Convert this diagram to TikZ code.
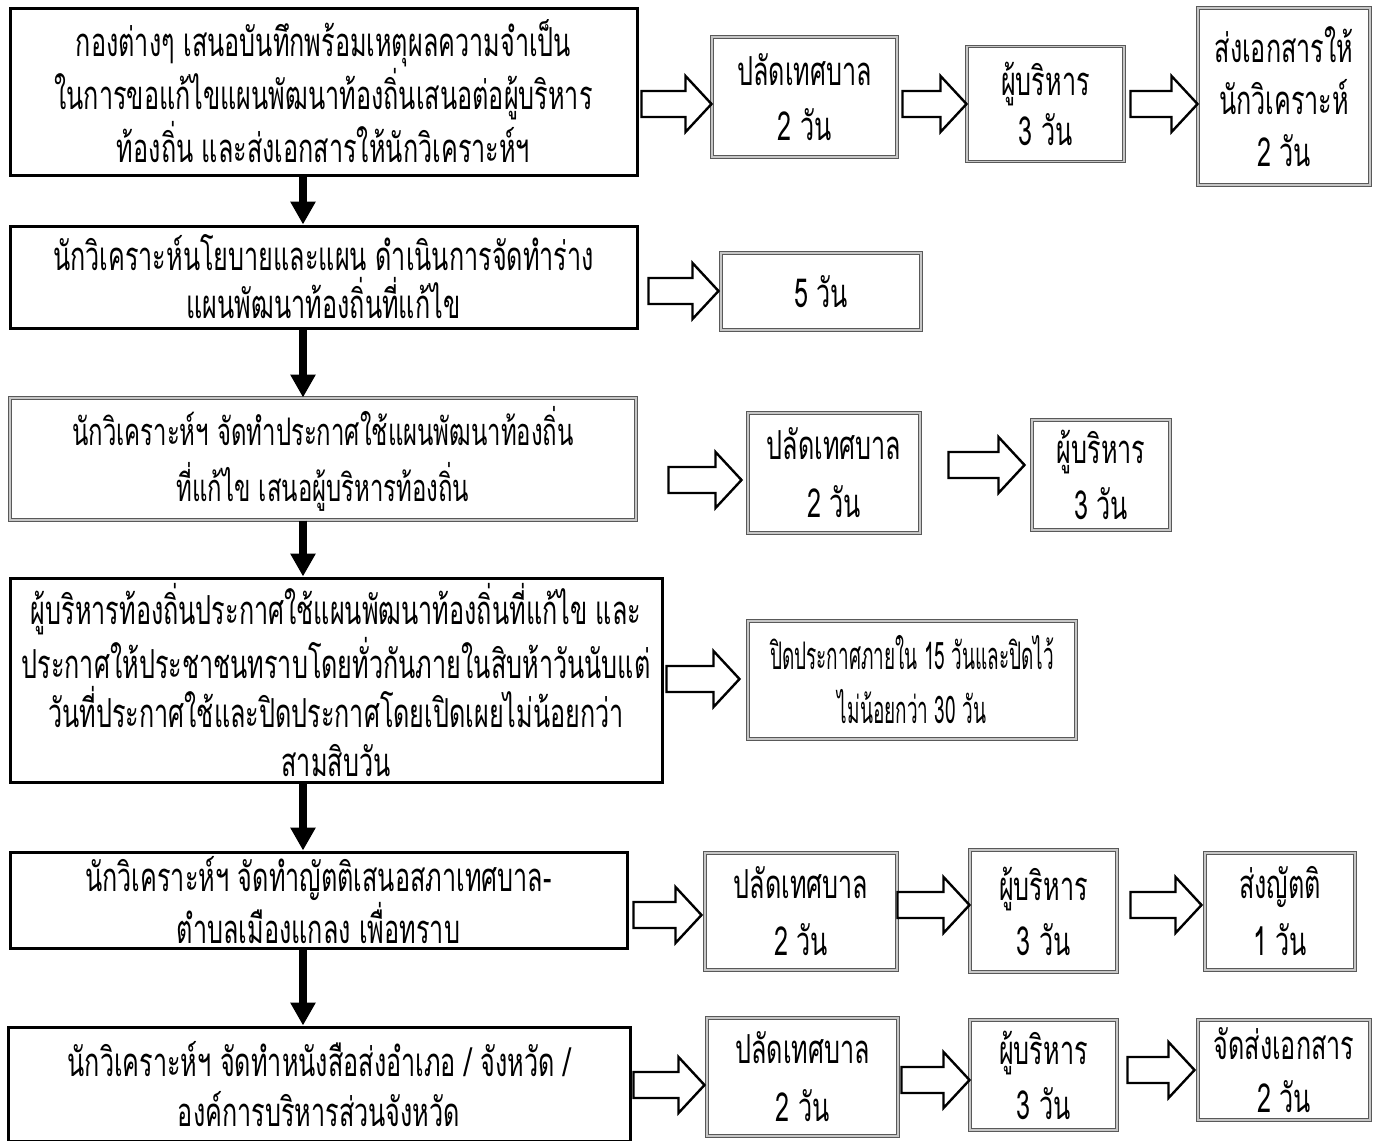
\documentclass[tikz,border=0pt]{standalone}
\usepackage{fontspec}
\newfontfamily\thaifont[Script=Thai,FakeStretch=0.63]{Loma}
\newfontfamily\thainarrow[Script=Thai,FakeStretch=0.5]{Loma}
\usetikzlibrary{arrows.meta,calc}

\tikzset{
  stepbox/.style={draw, line width=1.5pt, align=center, inner sep=0pt,
    font=\thaifont\fontsize{20}{26.5}\selectfont},
  daybox/.style={stepbox, draw=gray!70!black, line width=0.5pt,
    double=gray!45, double distance=0.7pt,
    font=\thaifont\fontsize{20}{27.5}\selectfont},
  boxsize/.style 2 args={minimum width=#1*0.5pt, minimum height=#2*0.5pt},
  lines/.style={font=\thaifont\fontsize{20}{#1}\selectfont},
  smalllines/.style 2 args={font=\thaifont\fontsize{#1}{#2}\selectfont},
  downflow/.style={line width=3.6pt, -{Triangle[width=12pt,length=11.5pt]}},
  sideflow/.style={draw, line width=1.2pt, fill=white, line join=miter},
}

% hollow arrow: from node, to node, y, gap at tail, gap at tip
\newcommand\blockarrow[5]{%
  \draw[sideflow] let \p1=(#1.east), \p2=(#2.west), \p3=(0,#3) in
    (\x1+#4*0.5pt,\y3+6.5pt) -- (\x2-#5*0.5pt-13pt,\y3+6.5pt)
    -- (\x2-#5*0.5pt-13pt,\y3+14pt) -- (\x2-#5*0.5pt,\y3)
    -- (\x2-#5*0.5pt-13pt,\y3-14pt) -- (\x2-#5*0.5pt-13pt,\y3-6.5pt)
    -- (\x1+#4*0.5pt,\y3-6.5pt) -- cycle;}

\begin{document}
\begin{tikzpicture}[x=0.5pt,y=-0.5pt]
  \useasboundingbox (0,0) rectangle (1379,1140);
  \fill[white] (0,0) rectangle (1379,1140);
  \coordinate (spine) at (303,0);

  % row 1
  \node[stepbox, boxsize={627}{167}] (brief) at (323.5,91.5)
    {กองต่างๆ เสนอบันทึกพร้อมเหตุผลความจำเป็น\\ในการขอแก้ไขแผนพัฒนาท้องถิ่นเสนอต่อผู้บริหาร\\ท้องถิ่น และส่งเอกสารให้นักวิเคราะห์ฯ};
  \node[daybox, boxsize={185}{120}] (clerk1) at (804.5,97) {ปลัดเทศบาล\\2 วัน};
  \node[daybox, boxsize={157}{115}, lines=25pt] (exec1) at (1045.5,104) {ผู้บริหาร\\3 วัน};
  \node[daybox, boxsize={172}{177}, lines=26pt] (send1) at (1284,96.5) {ส่งเอกสารให้\\นักวิเคราะห์\\2 วัน};

  % row 2
  \node[stepbox, boxsize={627}{102}, lines=24pt] (draft) at (323.5,277)
    {นักวิเคราะห์นโยบายและแผน ดำเนินการจัดทำร่าง\\แผนพัฒนาท้องถิ่นที่แก้ไข};
  \node[daybox, boxsize={200}{77}] (days2) at (821,291.5) {5 วัน};

  % row 3
  \node[daybox, boxsize={626}{122}, smalllines={19}{28pt}] (notice) at (323,459)
    {นักวิเคราะห์ฯ จัดทำประกาศใช้แผนพัฒนาท้องถิ่น\\ที่แก้ไข เสนอผู้บริหารท้องถิ่น};
  \node[daybox, boxsize={172}{120}, lines=29pt] (clerk3) at (834,473) {ปลัดเทศบาล\\2 วัน};
  \node[daybox, boxsize={138}{110}, lines=28pt] (exec3) at (1101,475) {ผู้บริหาร\\3 วัน};

  % row 4
  \node[stepbox, boxsize={652}{204}, lines=24.5pt] (announce) at (336,680)
    {ผู้บริหารท้องถิ่นประกาศใช้แผนพัฒนาท้องถิ่นที่แก้ไข และ\\ประกาศให้ประชาชนทราบโดยทั่วกันภายในสิบห้าวันนับแต่\\วันที่ประกาศใช้และปิดประกาศโดยเปิดเผยไม่น้อยกว่า\\สามสิบวัน};
  \node[daybox, boxsize={328}{118}, font=\thainarrow\fontsize{19}{27pt}\selectfont] (post4) at (912,680)
    {ปิดประกาศภายใน 15 วันและปิดไว้\\ไม่น้อยกว่า 30 วัน};

  % row 5
  \node[stepbox, boxsize={617}{96}, lines=24pt] (motion) at (318.5,900)
    {นักวิเคราะห์ฯ จัดทำญัตติเสนอสภาเทศบาล-\\ตำบลเมืองแกลง เพื่อทราบ};
  \node[daybox, boxsize={192}{117}, lines=28.5pt] (clerk5) at (801,911.5) {ปลัดเทศบาล\\2 วัน};
  \node[daybox, boxsize={147}{122}] (exec5) at (1043.5,911) {ผู้บริหาร\\3 วัน};
  \node[daybox, boxsize={150}{117}, lines=28.5pt] (send5) at (1280,911.5) {ส่งญัตติ\\1 วัน};

  % row 6
  \node[stepbox, boxsize={622}{114}, lines=25pt] (letter) at (319,1084)
    {นักวิเคราะห์ฯ จัดทำหนังสือส่งอำเภอ / จังหวัด /\\องค์การบริหารส่วนจังหวัด};
  \node[daybox, boxsize={191}{118}, lines=29pt] (clerk6) at (802.5,1077) {ปลัดเทศบาล\\2 วัน};
  \node[daybox, boxsize={147}{110}] (exec6) at (1043.5,1075) {ผู้บริหาร\\3 วัน};
  \node[daybox, boxsize={172}{100}, lines=26.5pt] (send6) at (1284,1070) {จัดส่งเอกสาร\\2 วัน};

  % main flow
  \draw[downflow] (brief.south -| spine) -- (draft.north -| spine);
  \draw[downflow] (draft.south -| spine) -- (notice.north -| spine);
  \draw[downflow] (notice.south -| spine) -- (announce.north -| spine);
  \draw[downflow] (announce.south -| spine) -- (motion.north -| spine);
  \draw[downflow] (motion.south -| spine) -- (letter.north -| spine);

  % side steps
  \blockarrow{brief}{clerk1}{104}{3}{0}
  \blockarrow{clerk1}{exec1}{104}{5}{0}
  \blockarrow{exec1}{send1}{104}{6}{0}
  \blockarrow{draft}{days2}{291}{10}{2}
  \blockarrow{notice}{clerk3}{480}{32}{6}
  \blockarrow{clerk3}{exec3}{465}{28}{7}
  \blockarrow{announce}{post4}{679}{3}{8}
  \blockarrow{motion}{clerk5}{915}{5}{3}
  \blockarrow{clerk5}{exec5}{905}{0}{0}
  \blockarrow{exec5}{send5}{905}{13}{3}
  \blockarrow{letter}{clerk6}{1085}{2}{2}
  \blockarrow{clerk6}{exec6}{1080}{3}{0}
  \blockarrow{exec6}{send6}{1070}{10}{3}
\end{tikzpicture}
\end{document}
